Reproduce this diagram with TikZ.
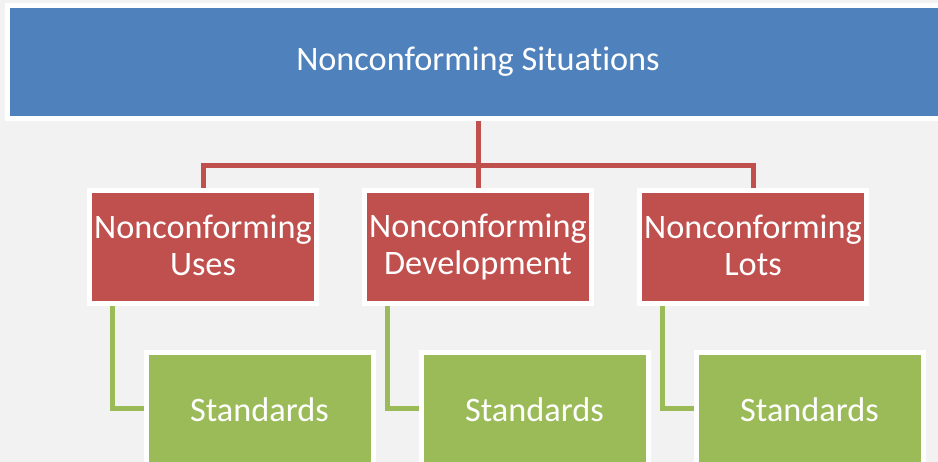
\documentclass[tikz,border=0pt]{standalone}
\usepackage{fontspec}
\setmainfont{Carlito}[Ligatures=NoCommon]
\usepackage{tikz}

\definecolor{sitblue}{HTML}{4F81BD}
\definecolor{sitred}{HTML}{C0504D}
\definecolor{sitgreen}{HTML}{9BBB59}
\definecolor{sitbg}{HTML}{F2F2F2}

% struts so every line sits on the same baseline
\newcommand{\boxstrut}{\rule[-4pt]{0pt}{34pt}}
\newcommand{\titlestrut}{\rule[-8pt]{0pt}{33pt}}

\begin{document}
\begin{tikzpicture}[x=1pt,y=-1pt,
  box/.style={draw=white,line width=5pt,inner sep=0pt,align=center,text=white,
    minimum width=227pt,minimum height=113pt,
    font=\fontsize{34.3}{37.5}\selectfont},
  titlebox/.style={box,fill=sitblue,minimum width=941pt,
    execute at begin node=\titlestrut,execute at end node=\titlestrut},
  redbox/.style={box,fill=sitred,
    execute at begin node=\boxstrut,execute at end node=\boxstrut},
  greenbox/.style={box,fill=sitgreen,
    execute at begin node=\boxstrut,execute at end node=\boxstrut},
  redline/.style={draw=sitred,line width=5pt},
  greenline/.style={draw=sitgreen,line width=5pt}]
% page and background
\useasboundingbox (0,0) rectangle (938,462);
\clip (0,0) rectangle (938,462);
\fill[sitbg] (0,0) rectangle (938,462);
% top box
\node[titlebox] (top) at (478,62) {Nonconforming Situations};
% second row
\node[redbox] (uses) at (203,247) {Nonconforming\\Uses};
\node[redbox] (devel) at (478,247) {Nonconforming\\Development};
\node[redbox] (lots) at (753,247) {Nonconforming\\Lots};
% third row
\node[greenbox] (stduses) at (259.5,409) {Standards};
\node[greenbox] (stddevel) at (534.5,409) {Standards};
\node[greenbox] (stdlots) at (809.5,409) {Standards};
% red connectors
\coordinate (bus) at (478,166);
\draw[redline] (top) -- (devel);
\draw[redline] (bus) -| (uses);
\draw[redline] (bus) -| (lots);
% green connectors
\draw[greenline] ([xshift=25pt]uses.south west) |- (stduses);
\draw[greenline] ([xshift=25pt]devel.south west) |- (stddevel);
\draw[greenline] ([xshift=25pt]lots.south west) |- (stdlots);
\end{tikzpicture}
\end{document}
